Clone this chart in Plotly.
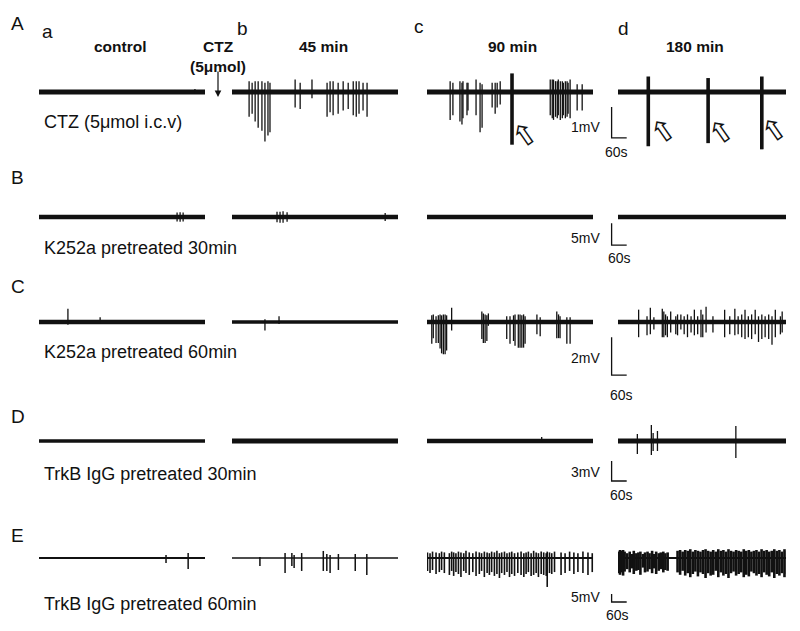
import plotly.graph_objects as go

W, H = 800, 631
PAD = 8                      # browser body margin around the plot div
FW, FH = W - PAD, H - PAD    # figure size actually drawn

# ---------------- data ----------------
row_letters = ["A", "B", "C", "D", "E"]
row_labels = ["CTZ (5μmol i.c.v)", "K252a pretreated 30min", "K252a pretreated 60min",
              "TrkB IgG pretreated 30min", "TrkB IgG pretreated 60min"]
col_letters = ["a", "b", "c", "d"]
col_titles = ["control", "45 min", "90 min", "180 min"]
scale_mv = [1, 5, 2, 3, 5]      # vertical scale bar per row
scale_s = 60                    # horizontal scale bar
rec_len = 660                   # seconds shown per sweep

# spikes: time (s), peak above baseline (mV), trough below baseline (mV)
A_a_t = [620]
A_a_up = [0.1]
A_a_dn = [0.05]
A_b_t = [68, 80, 92, 104, 119, 131, 143, 151, 251, 271, 318, 378, 390, 402, 422, 442, 462, 482, 494, 505, 521, 537]
A_b_up = [0.35, 0.3, 0.35, 0.35, 0.35, 0.3, 0.35, 0.3, 0.4, 0.3, 0.4, 0.3, 0.35, 0.35, 0.3, 0.35, 0.3, 0.35, 0.35, 0.35, 0.3, 0.3]
A_b_dn = [0.8, 0.7, 0.95, 1.15, 1.25, 1.6, 1.4, 1.3, 0.5, 0.55, 0.2, 0.8, 0.65, 0.75, 0.7, 0.6, 0.55, 0.75, 0.8, 0.7, 0.6, 0.8]
A_c_t = [92, 103, 131, 139, 143, 159, 163, 195, 211, 219, 259, 271, 279, 291, 490, 498, 503, 511, 518, 522, 530, 538, 542, 550, 557, 561, 569, 597, 617]
A_c_up = [0.35, 0.3, 0.35, 0.3, 0.35, 0.3, 0.3, 0.4, 0.3, 0.25, 0.3, 0.3, 0.3, 0.35, 0.4, 0.4, 0.4, 0.35, 0.35, 0.4, 0.35, 0.35, 0.3, 0.35, 0.35, 0.3, 0.4, 0.25, 0.25]
A_c_dn = [0.9, 0.75, 0.95, 1.05, 0.85, 0.75, 0.6, 0.75, 1.3, 1.15, 0.5, 0.7, 0.5, 0.4, 0.75, 0.85, 0.9, 0.8, 0.85, 0.75, 0.9, 0.85, 0.75, 0.85, 0.8, 0.7, 0.85, 0.6, 0.6]
A_c_big_t = [338]
A_c_big_up = [0.6]
A_c_big_dn = [1.7]
A_d_t = []
A_d_up = []
A_d_dn = []
A_d_big_t = [119, 354, 565]
A_d_big_up = [0.5, 0.45, 0.5]
A_d_big_dn = [1.75, 1.65, 1.85]

B_a_t = [549, 561, 573]
B_a_up = [1.0, 1.1, 1.0]
B_a_dn = [1.0, 1.1, 1.0]
B_b_t = [179, 191, 203, 219, 609]
B_b_up = [1.2, 1.2, 1.3, 1.1, 0.9]
B_b_dn = [1.2, 1.3, 1.3, 1.1, 0.9]

C_a_t = [115, 243]
C_a_up = [0.7, 0.25]
C_a_dn = [0.15, 0.1]
C_b_t = [131, 187]
C_b_up = [0.15, 0.3]
C_b_dn = [0.45, 0.1]
C_c_t = [19, 25, 36, 45, 52, 58, 65, 72, 78, 98, 218, 224, 231, 238, 244, 317, 330, 344, 350, 363, 370, 377, 384, 390, 437, 450, 516, 523, 529, 556, 569]
C_c_up = [0.35, 0.4, 0.3, 0.35, 0.4, 0.35, 0.4, 0.4, 0.35, 0.75, 0.55, 0.45, 0.4, 0.35, 0.45, 0.3, 0.3, 0.35, 0.4, 0.4, 0.4, 0.35, 0.4, 0.3, 0.4, 0.25, 0.55, 0.4, 0.3, 0.25, 0.25]
C_c_dn = [1.15, 0.85, 1.1, 1.1, 1.4, 1.65, 1.7, 1.7, 1.5, 0.45, 0.9, 1.1, 1.1, 1.0, 0.2, 0.9, 1.15, 1.0, 1.25, 1.35, 1.35, 1.35, 1.35, 1.15, 0.65, 0.75, 0.85, 0.85, 0.85, 1.15, 1.15]
C_d_t = [81, 114, 127, 141, 174, 180, 187, 194, 207, 227, 234, 247, 260, 273, 287, 300, 313, 326, 333, 346, 373, 419, 439, 459, 472, 486, 499, 512, 525, 539, 552, 565, 578, 592, 605, 618, 638, 645]
C_d_up = [0.65, 0.3, 0.75, 0.25, 0.7, 0.55, 0.4, 0.3, 0.55, 0.3, 0.4, 0.4, 0.3, 0.4, 0.3, 0.65, 0.3, 0.65, 0.4, 0.8, 0.3, 0.65, 0.3, 0.7, 0.3, 0.4, 0.65, 0.3, 0.4, 0.65, 0.3, 0.4, 0.3, 0.4, 0.3, 0.65, 0.3, 0.55]
C_d_dn = [0.8, 0.7, 0.65, 0.4, 0.8, 0.8, 0.7, 0.8, 0.55, 0.65, 0.7, 0.4, 0.65, 0.8, 0.55, 0.7, 0.65, 0.8, 0.8, 0.55, 0.55, 0.8, 0.65, 0.7, 0.65, 0.8, 0.9, 0.8, 0.9, 0.65, 1.05, 0.9, 0.8, 0.9, 1.2, 0.8, 0.65, 0.55]

D_c_t = [456]
D_c_up = [0.6]
D_c_dn = [0.1]
D_d_t = [76, 131, 138, 155, 463]
D_d_up = [1.05, 2.4, 1.2, 1.5, 2.25]
D_d_dn = [1.95, 2.1, 1.5, 1.5, 2.55]

E_a_t = [505, 593]
E_a_up = [1.9, 3.1]
E_a_dn = [3.1, 6.9]
E_b_t = [111, 211, 238, 247, 277, 363, 377, 390, 423, 490, 536]
E_b_up = [0.6, 3.1, 3.1, 1.9, 3.1, 4.4, 2.5, 1.9, 2.5, 2.5, 2.5]
E_b_dn = [5.0, 9.4, 5.0, 6.3, 8.1, 8.1, 8.1, 9.4, 7.5, 8.1, 10.6]
E_c_t = [2, 12, 22, 36, 49, 58, 69, 89, 98, 106,
         115, 125, 135, 146, 155, 168, 182, 195, 208, 217,
         228, 239, 248, 257, 268, 278, 288, 297, 308, 318,
         328, 337, 348, 361, 374, 385, 394, 403, 414, 424,
         434, 443, 454, 464, 474, 478, 487, 496, 507, 533,
         549, 567, 584, 600, 620, 640, 657]
E_c_up = [3.5, 3, 4, 3.5, 3, 4, 3.5, 3, 4, 3.5,
          3, 4, 3.5, 3, 4.5, 3.5, 3, 4, 3.5, 3,
          4, 3.5, 3, 4, 3.5, 4.5, 3, 3.5, 4, 3,
          3.5, 4, 3, 3.5, 4, 3, 3.5, 4, 3, 4.5,
          3.5, 3, 4, 3.5, 3, 4, 3.5, 3, 4, 3.5,
          3, 4, 3.5, 3, 4, 3.5, 3]
E_c_dn = [8.1, 9.4, 7.5, 10, 8.8, 7.5, 9.4, 10.6, 8.1, 11.2,
          8.8, 10, 11.9, 8.1, 9.4, 10.6, 8.8, 11.2, 10, 8.1,
          11.9, 9.4, 10.6, 8.8, 11.2, 10, 12.5, 9.4, 10.6, 8.8,
          11.9, 10, 11.2, 9.4, 10.6, 11.9, 10, 8.8, 11.2, 10.6,
          9.4, 11.9, 10, 10.6, 11.2, 18.1, 9.4, 10, 8.8, 10.6,
          9.4, 8.1, 10, 8.8, 9.4, 10.6, 8.8]
E_d_t = [2, 8, 14, 20, 26,
         36, 46, 54, 62, 72, 80, 88, 98, 106, 116, 124, 134, 142, 150, 160, 168, 178, 186, 195,
         234, 244, 254, 264, 274, 284, 294, 304, 314, 324,
         334, 344, 354, 364, 374, 384, 394, 404, 414, 424,
         434, 444, 454, 464, 474, 484, 494, 504, 514, 524,
         534, 544, 554, 564, 574, 584, 594, 604, 614, 624,
         634, 644, 654, 664]
E_d_up = [4, 5, 4.5, 5, 4,
          3, 4, 2.5, 4.5, 3, 3.5, 4, 2.5, 3.5, 4, 3, 4.5, 2.5, 4, 3, 3.5, 4, 3, 3.5,
          4.5, 5, 4, 5, 4.5, 5.5, 4, 5, 4.5, 4,
          5, 5.5, 4.5, 4, 5, 4, 5.5, 4.5, 5, 4,
          5.5, 4.5, 4, 5, 4.5, 4, 5.5, 4.5, 5, 4,
          4.5, 5, 4, 5.5, 4.5, 5, 4, 4.5, 5.5, 4.5,
          5, 4, 5.5, 4.5]
E_d_dn = [9.5, 10.5, 9, 11, 8.5,
          7, 9, 6.5, 10, 8, 7.5, 10.5, 6, 9, 8.5, 7, 9.5, 6.5, 10, 8, 7, 9, 7.5, 8,
          9, 10.5, 8, 11, 9.5, 12, 10, 8.5, 11.5, 9,
          10, 12.5, 9.5, 11, 10.5, 8, 12, 9, 11, 10,
          12.5, 9.5, 8.5, 11, 10, 9, 12, 10.5, 11.5, 8.5,
          9.5, 11, 10, 12, 9, 10.5, 11.5, 9, 12.5, 10,
          11, 9.5, 12, 10]

spikes = {
    (0, 0): (A_a_t, A_a_up, A_a_dn), (0, 1): (A_b_t, A_b_up, A_b_dn),
    (0, 2): (A_c_t, A_c_up, A_c_dn), (0, 3): (A_d_t, A_d_up, A_d_dn),
    (1, 0): (B_a_t, B_a_up, B_a_dn), (1, 1): (B_b_t, B_b_up, B_b_dn),
    (2, 0): (C_a_t, C_a_up, C_a_dn), (2, 1): (C_b_t, C_b_up, C_b_dn),
    (2, 2): (C_c_t, C_c_up, C_c_dn), (2, 3): (C_d_t, C_d_up, C_d_dn),
    (3, 2): (D_c_t, D_c_up, D_c_dn), (3, 3): (D_d_t, D_d_up, D_d_dn),
    (4, 0): (E_a_t, E_a_up, E_a_dn), (4, 1): (E_b_t, E_b_up, E_b_dn),
    (4, 2): (E_c_t, E_c_up, E_c_dn), (4, 3): (E_d_t, E_d_up, E_d_dn),
}
big_spikes = {
    (0, 2): (A_c_big_t, A_c_big_up, A_c_big_dn),
    (0, 3): (A_d_big_t, A_d_big_up, A_d_big_dn),
}

# ---------------- geometry (page pixels) ----------------
base_px = [92, 217, 322, 441, 558]
px_per_mv = [31, 4.4, 19, 6.67, 1.6]
col_px = [(39, 205), (232, 398), (427, 593), (618, 786)]
col_c_right = 645          # column c axis runs on to hold the scale bar
half_px = 70
base_w = [[5, 5, 5, 5], [4.5, 4.5, 4.5, 4.5], [4.5, 3.5, 4.5, 4.5], [3.5, 5, 4.5, 5], [2, 1.5, 2, 2]]
spike_w = [[1.3] * 4, [1.3] * 4, [1.3] * 4, [1.3] * 4, [1.5, 1.5, 1.6, 2.6]]
bar_bottom_mv = [1.48, 6.4, 2.8, 6.0, 27.5]
bar_t0 = 734

FONT = "Liberation Sans, Arial, sans-serif"
INK = "#111111"


def fx(x):
    return (x - PAD) / FW


def fy(y):
    return 1 - (y - PAD) / FH


fig = go.Figure()

for r in range(5):
    for c in range(4):
        k = r * 4 + c + 1
        xs = "" if k == 1 else str(k)
        x0, x1 = col_px[c]
        xr = [0, rec_len]
        if c == 2:
            xr = [0, rec_len * (col_c_right - x0) / (x1 - x0)]
            x1 = col_c_right
        yl = half_px / px_per_mv[r]
        fig.layout["xaxis" + xs] = dict(domain=[fx(x0), fx(x1)], range=xr, visible=False,
                                        anchor="y" + xs, fixedrange=True)
        fig.layout["yaxis" + xs] = dict(domain=[fy(base_px[r] + half_px), fy(base_px[r] - half_px)],
                                        range=[-yl, yl], visible=False, anchor="x" + xs, fixedrange=True)
        # baseline
        fig.add_trace(go.Scatter(x=[0, rec_len], y=[0, 0], mode="lines", xaxis="x" + xs, yaxis="y" + xs,
                                 line=dict(color=INK, width=base_w[r][c]), hoverinfo="skip", showlegend=False))
        for store, w in ((spikes, spike_w[r][c]), (big_spikes, 3.6)):
            if (r, c) not in store:
                continue
            ts, ups, dns = store[(r, c)]
            sx, sy = [], []
            for t, u, d in zip(ts, ups, dns):
                sx += [t, t, None]
                sy += [u, -d, None]
            fig.add_trace(go.Scatter(x=sx, y=sy, mode="lines", xaxis="x" + xs, yaxis="y" + xs,
                                     line=dict(color=INK, width=w), hoverinfo="skip", showlegend=False))
        if c == 2:
            # scale bar
            b = -bar_bottom_mv[r]
            fig.add_shape(type="path", xref="x" + xs, yref="y" + xs,
                          path=f"M {bar_t0} {b + scale_mv[r]} L {bar_t0} {b} L {bar_t0 + scale_s} {b}",
                          line=dict(color=INK, width=1.3))

anns = []


def txt(s, x, y, size, bold=False, xanchor="center", family=FONT, angle=0):
    anns.append(dict(text=f"<b>{s}</b>" if bold else s, x=fx(x), y=fy(y), xref="paper", yref="paper",
                     xanchor=xanchor, yanchor="middle", showarrow=False, textangle=angle,
                     font=dict(family=family, size=size, color=INK)))


# panel letters
for L, y in zip(row_letters, [23, 178, 286, 416, 535]):
    txt(L, 9, y, 19, xanchor="left")
for L, (x, y) in zip(col_letters, [(47.5, 31.5), (242.5, 28.5), (419, 26.7), (623.5, 28.5)]):
    txt(L, x, y, 19)
for s, x in zip(col_titles, [120, 323, 512, 695]):
    txt(s, x, 47, 15.5, bold=True)
txt("CTZ", 218, 47, 15.5, bold=True)
txt("(5μmol)", 218, 66.5, 15.5, bold=True)
for s, y in zip(row_labels, [121.7, 248, 352, 473.7, 603.7]):
    txt(s, 42, y, 18, xanchor="left")

# scale bar labels
for r, (yv, yh, xh) in enumerate([(127, 152, 616), (238, 258, 619), (358, 395, 621),
                                  (472, 495, 621), (597, 615, 617)]):
    txt(f"{scale_mv[r]}mV", 602, yv, 14, xanchor="right")
    txt(f"{scale_s}s", xh, yh, 14)

# hollow arrows pointing at the large discharges
for x, y in [(524, 135), (663, 132), (721, 133), (774, 131)]:
    txt("⇧", x, y, 30, family="DejaVu Sans", angle=-35)

# CTZ injection arrow
anns.append(dict(x=fx(218), y=fy(97), xref="paper", yref="paper", text="", showarrow=True,
                 ax=0, ay=-27, arrowhead=2, arrowsize=1.1, arrowwidth=1.2, arrowcolor=INK))

fig.update_layout(width=FW, height=FH, margin=dict(l=0, r=0, t=0, b=0),
                  paper_bgcolor="white", plot_bgcolor="rgba(0,0,0,0)",
                  annotations=anns, showlegend=False)

fig.write_html("out.html")
